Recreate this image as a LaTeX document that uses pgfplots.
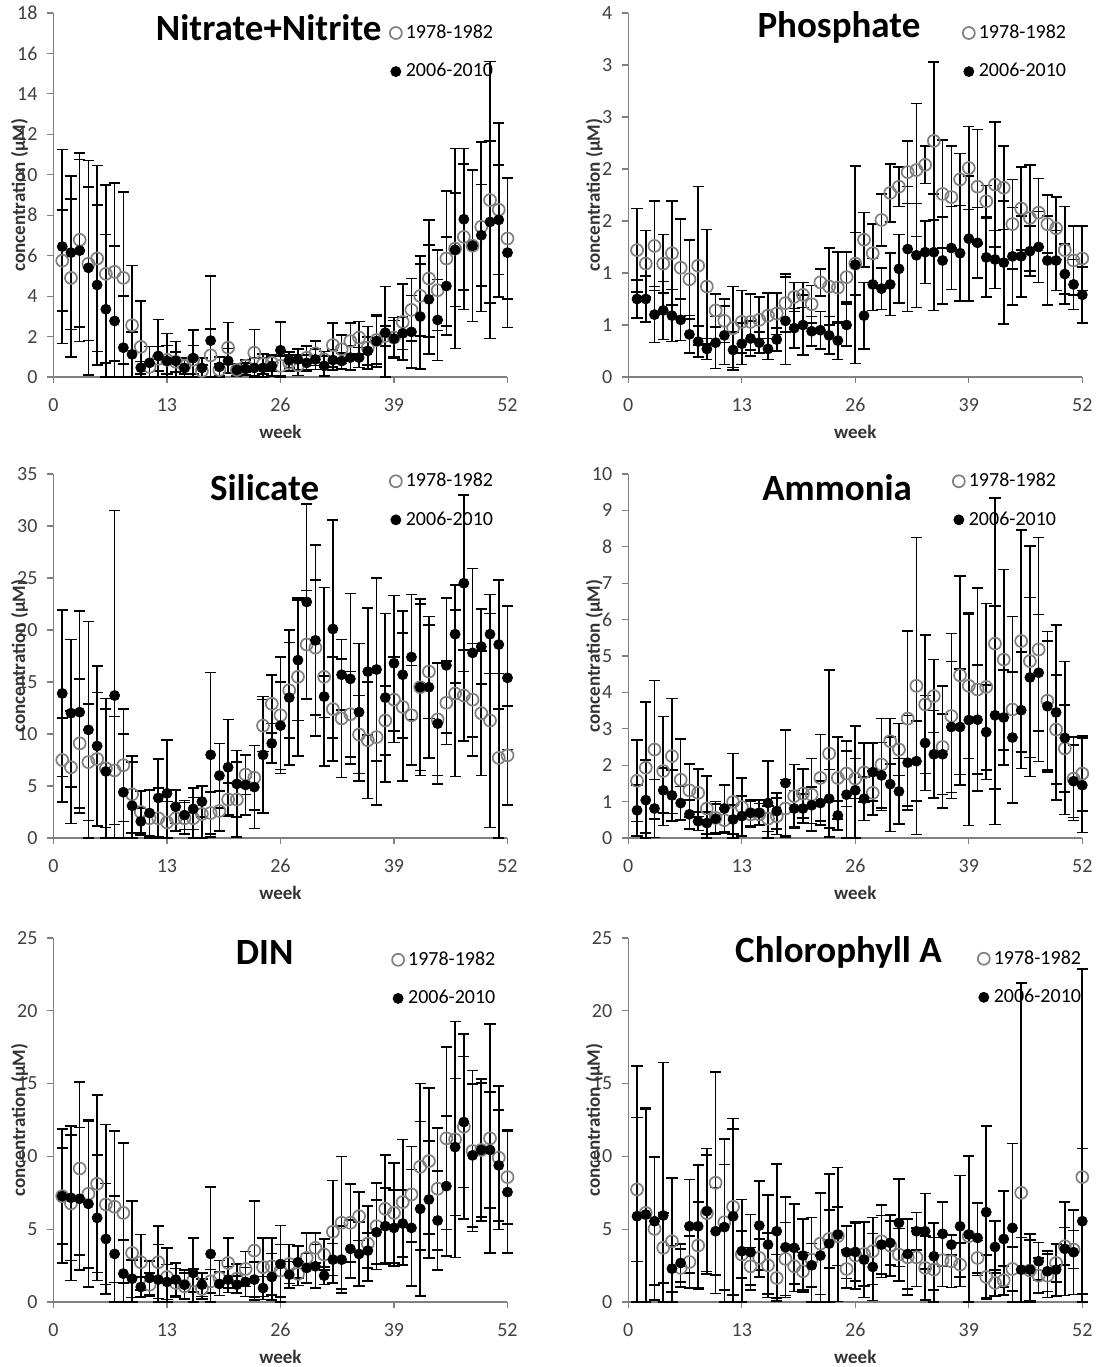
\documentclass[border=0pt]{standalone}
\usepackage{pgfplots}
\pgfplotsset{compat=1.18}
\usepackage{pgfplotstable}
\usepackage{fontspec}
\setmainfont{Carlito}

\pgfplotstableread{
w o oe f fe
1 5.75 2.5 6.45 4.8
2 4.9 3.9 6.15 3.8
3 6.78 4.3 6.25 4.5
4 5.6 3.8 5.4 5.3
5 5.86 4.6 4.55 3.95
6 5.1 4.4 3.35 3.7
7 5.2 4.4 2.77 3.7
8 4.9 4.25 1.45 2.55
9 2.56 2.95 1.12 1.1
10 1.49 2.27 0.46 0.3
11 0.5 1.0 0.7 0.8
12 0.9 0.6 1.04 1.8
13 0.85 0.7 0.8 1.35
14 0.75 0.5 0.8 0.95
15 0.55 0.4 0.45 0.5
16 0.85 0.7 0.93 1.4
17 0.3 0.3 0.45 0.5
18 1.07 1.3 1.8 3.2
19 0.35 0.3 0.5 0.5
20 1.45 1.25 0.8 0.6
21 0.35 0.3 0.35 0.3
22 0.55 0.3 0.4 0.3
23 1.2 1.15 0.45 0.5
24 0.65 0.5 0.45 0.5
25 0.7 0.4 0.55 0.5
26 0.55 0.5 1.32 1.4
27 0.7 0.4 0.83 0.4
28 0.58 0.5 0.87 0.5
29 0.95 0.58 0.7 0.4
30 1.17 0.6 0.87 0.5
31 0.87 0.4 0.55 0.5
32 1.58 1.1 0.84 0.5
33 1.37 0.7 0.79 0.4
34 1.78 0.9 0.96 0.6
35 1.95 0.8 0.96 0.5
36 1.45 1.05 1.29 0.7
37 1.83 1.2 1.78 1.3
38 2.03 0.5 2.19 2.28
39 1.95 1.0 1.9 0.9
40 2.72 1.87 2.16 0.8
41 3.32 1.55 2.23 1.8
42 4.01 1.98 2.99 2.6
43 4.87 2.9 3.84 2.7
44 4.29 2.0 2.82 2.0
45 5.86 3.34 4.5 2.43
46 6.35 4.95 6.29 2.8
47 6.93 3.6 7.8 3.5
48 6.49 3.75 6.49 3.75
49 7.43 4.2 7.01 2.5
50 8.75 6.85 7.67 4.0
51 8.27 4.3 7.77 2.7
52 6.85 3.0 6.15 3.7
}\nitrate

\pgfplotstableread{
w o oe f fe
1 1.22 0.4 0.75 0.18
2 1.09 0.32 0.75 0.22
3 1.26 0.43 0.6 0.27
4 1.09 0.28 0.64 0.28
5 1.19 0.5 0.59 0.25
6 1.05 0.47 0.55 0.2
7 0.94 0.38 0.41 0.18
8 1.07 0.76 0.34 0.15
9 0.87 0.55 0.27 0.1
10 0.64 0.16 0.33 0.25
11 0.54 0.21 0.4 0.28
12 0.47 0.4 0.26 0.17
13 0.53 0.3 0.32 0.2
14 0.53 0.27 0.37 0.17
15 0.55 0.22 0.33 0.1
16 0.59 0.22 0.27 0.1
17 0.61 0.2 0.36 0.11
18 0.71 0.28 0.54 0.42
19 0.77 0.14 0.47 0.19
20 0.79 0.12 0.5 0.29
21 0.7 0.18 0.44 0.14
22 0.91 0.13 0.45 0.18
23 0.87 0.37 0.4 0.18
24 0.86 0.34 0.35 0.18
25 0.96 0.24 0.5 0.2
26 1.09 0.3 1.08 0.95
27 1.32 0.26 0.59 0.32
28 1.19 0.28 0.89 0.25
29 1.51 0.25 0.85 0.2
30 1.77 0.28 0.89 0.3
31 1.83 0.19 1.04 0.33
32 1.97 0.3 1.23 0.6
33 1.99 0.64 1.17 0.5
34 2.04 0.18 1.2 0.3
35 2.27 0.76 1.2 0.56
36 1.76 0.52 1.12 0.42
37 1.73 0.49 1.24 0.4
38 1.9 0.25 1.19 0.46
39 2.01 0.4 1.33 0.6
40 1.83 0.55 1.29 0.34
41 1.69 0.15 1.15 0.38
42 1.85 0.6 1.13 0.28
43 1.82 0.4 1.1 0.59
44 1.47 0.43 1.16 0.47
45 1.62 0.4 1.16 0.39
46 1.53 0.51 1.21 0.24
47 1.58 0.33 1.25 0.34
48 1.47 0.28 1.12 0.43
49 1.43 0.3 1.12 0.29
50 1.22 0.42 0.99 0.29
51 1.12 0.33 0.89 0.24
52 1.14 0.31 0.79 0.27
}\phosphate

\pgfplotstableread{
w o oe f fe
1 7.5 4.05 13.9 8.0
2 6.8 5.4 12.0 7.1
3 9.1 6.2 12.1 9.7
4 7.3 5.6 10.4 10.4
5 7.6 6.4 8.85 7.7
6 6.7 5.7 6.4 7.0
7 6.5 5.2 13.7 17.8
8 7.0 5.4 4.4 5.6
9 4.2 3.7 3.1 4.2
10 2.5 2.0 1.6 1.3
11 1.9 2.7 2.4 2.2
12 1.9 2.9 3.85 3.75
13 1.5 2.0 4.3 5.1
14 1.9 1.2 3.0 1.6
15 1.9 1.5 2.2 1.4
16 1.9 2.0 2.8 2.0
17 2.3 2.7 3.5 1.5
18 2.4 2.0 8.0 7.9
19 2.6 1.9 6.0 3.1
20 3.7 1.6 6.8 4.6
21 3.7 3.6 5.2 3.2
22 6.1 1.9 5.1 2.9
23 5.8 3.1 4.9 4.0
24 10.8 2.5 8.0 5.6
25 12.9 2.8 9.1 1.9
26 11.8 5.6 10.8 4.2
27 14.2 4.6 13.5 6.5
28 15.5 7.6 17.1 5.8
29 18.6 5.2 22.7 9.4
30 18.3 6.5 19.0 9.2
31 15.5 8.6 13.6 2.0
32 12.4 5.0 20.1 10.5
33 11.5 5.7 15.7 3.4
34 11.9 4.1 15.3 8.2
35 9.95 3.75 12.1 6.6
36 9.4 5.6 16.0 6.1
37 9.7 6.5 16.2 8.8
38 11.3 3.3 13.5 8.1
39 13.3 4.1 16.8 6.5
40 12.6 7.1 15.7 6.1
41 11.8 4.8 17.4 6.0
42 14.5 8.0 14.5 8.5
43 16.0 4.5 14.5 6.8
44 11.4 5.4 11.0 5.8
45 13.0 4.0 16.6 6.5
46 13.9 8.0 19.6 4.7
47 13.7 4.4 24.5 8.5
48 13.3 5.4 17.8 8.1
49 12.0 6.0 18.4 3.6
50 11.3 10.3 19.6 3.8
51 7.7 8.1 18.6 6.2
52 7.95 4.75 15.4 6.9
}\silicate

\pgfplotstableread{
w o oe f fe
1 1.57 1.12 0.76 0.7
2 1.93 1.8 1.04 1.1
3 2.43 1.9 0.81 0.8
4 1.84 1.5 1.31 0.62
5 2.25 1.58 1.17 0.7
6 1.6 1.12 0.96 0.45
7 1.31 0.73 0.65 0.4
8 1.24 0.65 0.46 0.25
9 0.81 0.9 0.41 0.3
10 0.55 0.45 0.53 0.4
11 0.49 0.35 0.81 0.65
12 0.99 1.33 0.51 0.4
13 0.85 0.8 0.6 0.55
14 0.65 0.35 0.69 0.35
15 0.65 0.3 0.69 0.35
16 0.53 0.35 0.96 1.15
17 0.6 0.5 0.74 0.5
18 0.81 0.8 1.51 1.45
19 1.15 0.87 0.81 0.5
20 1.22 0.67 0.81 0.4
21 1.19 0.99 0.9 0.5
22 1.65 1.19 0.96 0.6
23 2.32 2.3 1.08 0.8
24 1.65 1.13 0.62 0.4
25 1.77 0.9 1.19 1.2
26 1.63 0.55 1.31 1.76
27 1.8 0.81 1.08 0.6
28 1.24 0.6 1.81 0.8
29 2.02 1.26 1.72 0.9
30 2.66 0.62 1.48 1.3
31 2.43 0.71 1.28 0.9
32 3.28 2.4 2.07 1.3
33 4.18 4.08 2.11 1.1
34 3.67 1.9 2.61 1.3
35 3.9 1.0 2.3 1.2
36 2.5 1.68 2.3 1.1
37 3.35 2.27 3.05 1.8
38 4.47 2.73 3.05 1.6
39 4.18 2.0 3.24 2.9
40 4.08 2.79 3.25 1.5
41 4.15 2.29 2.91 1.3
42 5.34 4.0 3.37 3.0
43 4.9 2.48 3.31 1.3
44 3.53 2.55 2.76 1.8
45 5.41 3.05 3.51 1.6
46 4.86 3.17 4.41 2.2
47 5.18 3.08 4.54 1.6
48 3.77 1.9 3.62 1.8
49 2.98 1.5 3.45 2.4
50 2.46 1.2 2.75 2.1
51 1.63 1.15 1.56 1.0
52 1.77 1.03 1.45 1.3
}\ammonia

\pgfplotstableread{
w o oe f fe
1 7.27 3.3 7.27 4.6
2 6.77 5.3 7.16 4.3
3 9.17 5.95 7.09 4.9
4 7.43 5.1 6.74 5.7
5 8.12 6.1 5.78 4.3
6 6.7 5.5 4.33 3.8
7 6.54 5.2 3.3 3.97
8 6.12 4.8 1.95 2.3
9 3.37 3.55 1.6 1.3
10 2.73 1.9 1.03 0.7
11 1.19 0.8 1.65 1.15
12 2.73 2.5 1.54 2.4
13 1.72 2.0 1.38 1.2
14 1.31 1.0 1.54 1.14
15 1.08 0.9 1.19 1.0
16 1.47 0.8 2.0 2.4
17 0.9 0.7 1.19 0.8
18 1.42 0.8 3.3 4.6
19 1.65 1.2 1.24 0.8
20 2.68 1.7 1.54 0.9
21 1.6 1.0 1.19 0.6
22 2.27 1.2 1.38 1.0
23 3.53 3.4 1.54 1.2
24 2.39 2.0 0.96 0.8
25 2.45 1.95 1.72 1.6
26 2.16 1.8 2.61 2.64
27 2.61 1.33 1.88 0.9
28 1.93 0.8 2.73 1.1
29 3.03 1.72 2.34 1.0
30 3.72 1.03 2.45 1.5
31 3.26 1.07 1.81 0.6
32 4.82 3.53 2.91 1.1
33 5.44 4.54 2.91 2.3
34 5.44 2.68 3.65 2.0
35 5.89 1.66 3.3 2.2
36 4.01 2.57 3.53 1.2
37 5.21 2.98 4.79 2.2
38 6.4 3.7 5.21 2.6
39 6.12 3.44 5.09 2.6
40 6.86 4.31 5.39 2.3
41 7.39 3.28 5.09 4.0
42 9.29 5.71 6.4 6.0
43 9.68 5.02 7.04 4.0
44 7.78 4.19 5.6 3.4
45 11.24 6.26 7.96 4.8
46 11.17 8.1 10.64 4.7
47 12.04 6.36 12.36 4.5
48 10.37 5.53 10.07 4.9
49 10.44 4.86 10.44 4.6
50 11.24 7.86 10.44 4.0
51 9.91 4.93 9.38 3.8
52 8.58 3.22 7.55 4.2
}\din

\pgfplotstableread{
w o oe f fe
1 7.73 4.95 5.89 10.3
2 6.12 7.2 6.01 7.2
3 5.02 4.9 5.55 4.4
4 3.72 2.4 5.94 10.5
5 4.17 4.36 2.29 1.6
6 2.34 1.3 2.68 1.3
7 2.75 1.8 5.2 3.2
8 3.88 3.0 5.2 4.2
9 6.1 4.0 6.24 4.3
10 8.19 7.6 4.86 3.0
11 5.48 5.7 5.14 4.3
12 6.54 6.06 5.89 6.0
13 3.26 1.6 3.49 3.55
14 2.45 1.3 3.42 2.6
15 3.03 1.3 5.25 3.05
16 2.52 2.2 3.94 3.4
17 1.65 1.6 4.86 4.6
18 2.96 2.5 3.76 3.45
19 2.45 1.2 3.72 3.0
20 2.11 1.3 3.19 2.5
21 2.91 2.9 2.52 1.5
22 4.01 3.5 3.19 4.3
23 4.33 2.0 4.01 4.8
24 4.52 2.0 4.63 4.6
25 2.27 1.3 3.42 1.8
26 3.19 2.3 3.44 2.0
27 3.3 2.2 2.91 2.6
28 3.49 2.3 2.41 2.3
29 4.17 2.5 3.94 2.0
30 3.88 2.1 4.06 1.5
31 3.26 1.8 5.44 3.0
32 3.07 2.6 3.3 2.4
33 3.07 2.0 4.86 1.3
34 2.34 2.2 4.86 2.6
35 2.22 2.2 3.14 2.3
36 2.87 1.8 4.68 2.2
37 2.8 1.8 3.94 0.7
38 2.57 1.5 5.2 3.5
39 4.52 5.5 4.63 5.4
40 3.03 1.2 4.4 2.4
41 1.72 1.5 6.17 5.9
42 1.31 0.9 3.78 1.8
43 1.49 1.0 4.33 3.3
44 2.27 1.5 5.09 5.8
45 7.5 14.4 2.22 2.2
46 2.16 2.1 2.22 2.46
47 1.81 1.2 2.8 1.3
48 1.81 1.5 2.11 1.4
49 2.68 1.3 2.22 1.8
50 3.83 1.3 3.65 3.2
51 3.6 1.3 3.42 2.9
52 8.58 14.3 5.55 5.0
}\chl

\pgfplotsset{
  panel/.style={
    scale only axis, width=227pt, height=182pt,
    xmin=0, xmax=52, xtick={0,13,26,39,52}, ymin=0,
    clip=false,
    axis lines*=left,
    axis line style={black!50, line width=0.6pt},
    tick style={black!50, line width=0.6pt},
    tick align=outside, major tick length=3pt,
    tick label style={font=\fontsize{10}{12}\selectfont, text=black!75},
    /pgf/number format/assume math mode=true,
    xticklabel style={yshift=-4pt},
    yticklabel style={xshift=-1.5pt},
    xlabel={week},
    xlabel style={font=\bfseries\fontsize{9.5}{11}\selectfont, text=black!80,
      at={(axis description cs:0.5,0)}, anchor=north, yshift=-20.5pt},
    ylabel={concentration (µM)},
    ylabel style={font=\bfseries\fontsize{9.5}{11}\selectfont, text=black!80,
      at={(axis description cs:-0.075,0.5)}, anchor=center},
    legend cell align=left,
    legend style={draw=none, fill=none, font=\fontsize{10}{12}\selectfont,
      row sep=7pt, anchor=north west, inner sep=0pt},
  },
  oldser/.style={only marks, mark=o, mark size=3pt, color=black!50,
    mark options={line width=0.85pt},
    error bars/y dir=both, error bars/y explicit,
    error bars/error bar style={black, line width=0.8pt},
    error bars/error mark options={rotate=90, mark size=2.8pt, black, line width=0.8pt}},
  newser/.style={only marks, mark=*, mark size=2.5pt, color=black,
    error bars/y dir=both, error bars/y explicit,
    error bars/error bar style={black, line width=0.8pt},
    error bars/error mark options={rotate=90, mark size=2.8pt, black, line width=0.8pt}},
}
\newcommand{\twoser}[1]{%
  \addplot[oldser] table[x=w, y=o, y error plus=oe,
    y error minus expr={min(\thisrow{oe},\thisrow{o})}] {#1};
  \addplot[newser] table[x=w, y=f, y error plus=fe,
    y error minus expr={min(\thisrow{fe},\thisrow{f})}] {#1};
  \legend{1978-1982, 2006-2010}
}
\newcommand{\ttl}[3]{\node[font=\bfseries\fontsize{18.5}{21}\selectfont] at (axis description cs:#1,#2) {#3};}

\begin{document}
\begin{tikzpicture}
\path[use as bounding box] (0,0) rectangle (550pt,683.5pt);

\begin{axis}[panel, at={(26.75pt,495pt)}, anchor=south west,
  ymax=18, ytick={0,2,...,18}, legend style={at={(axis description cs:0.74,0.98)}}]
  \twoser{\nitrate}
  \ttl{0.474}{0.961}{Nitrate+Nitrite}
\end{axis}

\begin{axis}[panel, at={(314.15pt,495pt)}, anchor=south west,
  ymax=3.5, ytick={0,0.5,...,3.5}, yticklabels={0,1,1,2,2,3,3,4},
  legend style={at={(axis description cs:0.736,0.98)}}]
  \twoser{\phosphate}
  \ttl{0.464}{0.961}{Phosphate}
\end{axis}

\begin{axis}[panel, at={(26.75pt,264.5pt)}, anchor=south west,
  ymax=35, ytick={0,5,...,35}, legend style={at={(axis description cs:0.74,1.015)}}]
  \twoser{\silicate}
  \ttl{0.465}{0.962}{Silicate}
\end{axis}

\begin{axis}[panel, at={(314.15pt,264.5pt)}, anchor=south west,
  ymax=10, ytick={0,1,...,10}, legend style={at={(axis description cs:0.714,1.015)}}]
  \twoser{\ammonia}
  \ttl{0.46}{0.962}{Ammonia}
\end{axis}

\begin{axis}[panel, at={(26.75pt,32.5pt)}, anchor=south west,
  ymax=25, ytick={0,5,...,25}, legend style={at={(axis description cs:0.745,0.975)}}]
  \twoser{\din}
  \ttl{0.465}{0.961}{DIN}
\end{axis}

\begin{axis}[panel, at={(314.15pt,32.5pt)}, anchor=south west,
  ymax=25, ytick={0,5,...,25}, legend style={at={(axis description cs:0.769,0.978)}}]
  \twoser{\chl}
  \ttl{0.463}{0.961}{Chlorophyll A}
\end{axis}
\end{tikzpicture}
\end{document}
